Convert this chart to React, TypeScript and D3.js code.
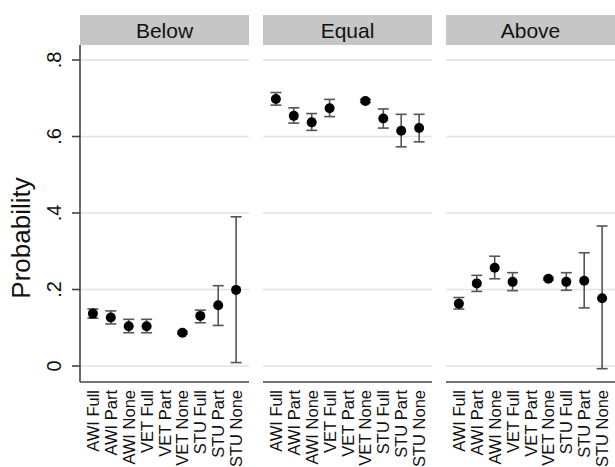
import React from 'react';
import * as d3 from 'd3';

const panels = ['Below', 'Equal', 'Above'];
const categories = ['AWI Full', 'AWI Part', 'AWI None', 'VET Full', 'VET Part', 'VET None', 'STU Full', 'STU Part', 'STU None'];
const yTicks = [0, 0.2, 0.4, 0.6, 0.8];
const yTickLabels = ['0', '.2', '.4', '.6', '.8'];

// point estimates, lower and upper CI, per panel (null = no estimate)
const belowEst = [0.137, 0.127, 0.104, 0.104, null, 0.087, 0.131, 0.159, 0.199];
const belowLo = [0.125, 0.110, 0.087, 0.087, null, 0.084, 0.113, 0.106, 0.009];
const belowHi = [0.149, 0.144, 0.122, 0.122, null, 0.090, 0.146, 0.210, 0.390];

const equalEst = [0.698, 0.654, 0.637, 0.674, null, 0.693, 0.647, 0.615, 0.622];
const equalLo = [0.682, 0.635, 0.616, 0.652, null, 0.689, 0.622, 0.573, 0.586];
const equalHi = [0.715, 0.675, 0.660, 0.697, null, 0.697, 0.672, 0.658, 0.658];

const aboveEst = [0.163, 0.216, 0.257, 0.220, null, 0.228, 0.220, 0.223, 0.177];
const aboveLo = [0.149, 0.195, 0.228, 0.197, null, 0.225, 0.198, 0.152, -0.007];
const aboveHi = [0.179, 0.237, 0.287, 0.244, null, 0.231, 0.244, 0.296, 0.366];

const panelData = [
    { est: belowEst, lo: belowLo, hi: belowHi },
    { est: equalEst, lo: equalLo, hi: equalHi },
    { est: aboveEst, lo: aboveLo, hi: aboveHi }
];

const config = {
    panelLeft: [80, 263, 446],
    panelWidth: 169,
    stripTop: 15,
    stripBottom: 45,
    plotBottom: 382,
    font: 'Liberation Sans, Arial, Helvetica, sans-serif'
};

const y = d3.scaleLinear().domain([0, 0.8]).range([366, 60]);

function Panel({ index }: { index: number }) {
    const left = config.panelLeft[index];
    const right = left + config.panelWidth;
    const x = d3.scalePoint<string>().domain(categories).range([left, right]).padding(0.72);
    const { est, lo, hi } = panelData[index];
    return (
        <g>
            <rect x={left} y={config.stripTop} width={config.panelWidth} height={config.stripBottom - config.stripTop} fill="#c6c6c6" />
            <text x={(left + right) / 2} y={38} textAnchor="middle" fontSize={21} fill="#111">{panels[index]}</text>
            {yTicks.map(t => (
                <line key={t} x1={left} x2={right} y1={y(t)} y2={y(t)} stroke="#e2e2e2" strokeWidth={1.6} />
            ))}
            <line x1={left} x2={right} y1={config.plotBottom} y2={config.plotBottom} stroke="#444" strokeWidth={1.6} />
            {categories.map((c, i) => {
                const v = est[i];
                if (v == null) return null;
                const cx = x(c) as number;
                return (
                    <g key={c}>
                        <line x1={cx} x2={cx} y1={y(lo[i] as number)} y2={y(hi[i] as number)} stroke="#555" strokeWidth={1.6} />
                        <line x1={cx - 5.5} x2={cx + 5.5} y1={y(lo[i] as number)} y2={y(lo[i] as number)} stroke="#555" strokeWidth={1.6} />
                        <line x1={cx - 5.5} x2={cx + 5.5} y1={y(hi[i] as number)} y2={y(hi[i] as number)} stroke="#555" strokeWidth={1.6} />
                        <circle cx={cx} cy={y(v)} r={5} fill="#000" />
                    </g>
                );
            })}
            {categories.map(c => (
                <text key={c} transform={`translate(${(x(c) as number) + 6},${config.plotBottom + 8}) rotate(-90)`}
                      textAnchor="end" fontSize={16.5} fill="#111">{c}</text>
            ))}
        </g>
    );
}

export default function App() {
    return (
        <svg width={615} height={467} style={{ position: 'absolute', left: 0, top: 0, background: '#fff' }} fontFamily={config.font}>
            <rect width={615} height={467} fill="#fff" />
            {panels.map((p, i) => <Panel key={p} index={i} />)}
            <line x1={80} x2={80} y1={config.stripBottom} y2={config.plotBottom} stroke="#444" strokeWidth={1.6} />
            {yTicks.map((t, i) => (
                <g key={t}>
                    <line x1={72} x2={80} y1={y(t)} y2={y(t)} stroke="#444" strokeWidth={1.6} />
                    <text transform={`translate(${61},${y(t)}) rotate(-90)`} textAnchor="middle" fontSize={20} fill="#111">{yTickLabels[i]}</text>
                </g>
            ))}
            <text transform={`translate(${30},${238}) rotate(-90)`}
                  textAnchor="middle" fontSize={26} fill="#111">Probability</text>
        </svg>
    );
}
